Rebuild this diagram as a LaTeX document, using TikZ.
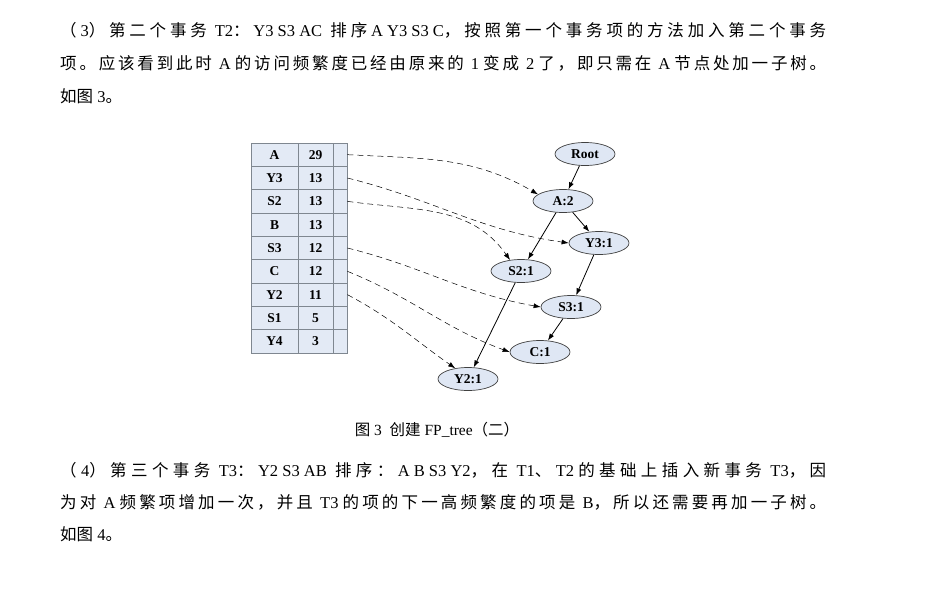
\documentclass[tikz,border=0pt]{standalone}
\usepackage{fontspec}
\setmainfont{Liberation Serif}
\newfontfamily\cjk{Noto Sans CJK SC}
\usetikzlibrary{shapes.geometric,arrows.meta}
% CJK run: every character followed by stretchable glue (for justified lines)
\def\zh#1{{\cjk\zhloop#1\relax}}
\def\zhloop#1{\ifx#1\relax\else#1\hskip0pt plus 1fil\expandafter\zhloop\fi}
\newcommand\jline[1]{\hbox to 766pt{#1\unskip}}
\definecolor{cellfill}{HTML}{E3EAF5}
\definecolor{cellline}{HTML}{7F8790}
\definecolor{nodefill}{HTML}{DFE7F4}
\tikzset{
  para/.style={anchor=west, inner sep=0pt, font=\fontsize{16.5}{20}\selectfont},
  captxt/.style={inner sep=0pt, font=\fontsize{15.5}{18}\selectfont},
  cellbox/.style={draw=cellline, fill=cellfill, line width=0.8pt, minimum height=23.33pt, inner sep=0pt, font=\bfseries\fontsize{13.5}{15}\selectfont},
  namecell/.style={cellbox, minimum width=47pt},
  countcell/.style={cellbox, minimum width=35pt},
  ptrcell/.style={cellbox, minimum width=14pt},
  treenode/.style={ellipse, draw=black!75, fill=nodefill, line width=0.7pt, minimum width=60pt, minimum height=23pt, inner sep=0pt, font=\bfseries\fontsize{13.5}{15}\selectfont},
  treeedge/.style={-{Latex[length=7pt,width=5pt]}, line width=0.8pt},
  linkedge/.style={-{Latex[length=7pt,width=5pt]}, dashed, dash pattern=on 6pt off 4pt, line width=0.5pt}
}
\begin{document}
\begin{tikzpicture}[x=1pt,y=-1pt]
\useasboundingbox[fill=white] (0,0) rectangle (951,598);
% paragraphs
\node[para] (l1) at (60,30) {\jline{\zh{（}3\zh{）第二个事务} T2\zh{：}Y3 S3 AC\ \ \zh{排序}A Y3 S3 C\zh{，按照第一个事务项的方法加入第二个事务}}};
\node[para] (l2) at (60,63) {\jline{\zh{项。应该看到此时} A \zh{的访问频繁度已经由原来的} 1 \zh{变成} 2 \zh{了，即只需在} A \zh{节点处加一子树。}}};
\node[para] (l3) at (60,96) {\zh{如图} 3\zh{。}};
\node[captxt] (cap) at (437,430) {\zh{图} 3\ \ \zh{创建} FP\_tree\zh{（二）}};
\node[para] (l4) at (60,470) {\jline{\zh{（}4\zh{）第三个事务} T3\zh{：}Y2 S3 AB\ \ \zh{排序：}A B S3 Y2\zh{，在} T1\zh{、}T2 \zh{的基础上插入新事务} T3\zh{，因}}};
\node[para] (l5) at (60,502) {\jline{\zh{为对} A \zh{频繁项增加一次，并且} T3 \zh{的项的下一高频繁度的项是} B\zh{，所以还需要再加一子树。}}};
\node[para] (l6) at (60,534) {\zh{如图} 4\zh{。}};
% table
\foreach \n/\c [count=\i] in {A/29,Y3/13,S2/13,B/13,S3/12,C/12,Y2/11,S1/5,Y4/3}{
  \node[namecell] (n\i) at (274.5,{143+(\i-0.5)*23.33}) {\n};
  \node[countcell] (c\i) at (315.5,{143+(\i-0.5)*23.33}) {\c};
  \node[ptrcell] (p\i) at (340,{143+(\i-0.5)*23.33}) {};
}
% tree
\node[treenode] (root) at (585,154) {Root};
\node[treenode] (a2) at (563,201) {A:2};
\node[treenode] (y31) at (599,243) {Y3:1};
\node[treenode] (s21) at (521,271) {S2:1};
\node[treenode] (s31) at (571,307) {S3:1};
\node[treenode] (c1) at (540,352) {C:1};
\node[treenode] (y21) at (468,379) {Y2:1};
\draw[treeedge] (root) -- (a2);
\draw[treeedge] (a2) -- (y31);
\draw[treeedge] (a2) -- (s21);
\draw[treeedge] (y31) -- (s31);
\draw[treeedge] (s31) -- (c1);
\draw[treeedge] (s21) -- (y21);
% header links
\draw[linkedge] (p1.east) to[out=-3,in=150] (a2.165);
\draw[linkedge] (p2.east) to[out=-14,in=172] (y31.west);
\draw[linkedge] (p3.east) to[out=-8,in=125] (s21.135);
\draw[linkedge] (p5.east) to[out=-14,in=170] (s31.west);
\draw[linkedge] (p6.east) to[out=-22,in=160] (c1.west);
\draw[linkedge] (p7.east) to[out=-28,in=145] (y21.140);
\end{tikzpicture}
\end{document}
